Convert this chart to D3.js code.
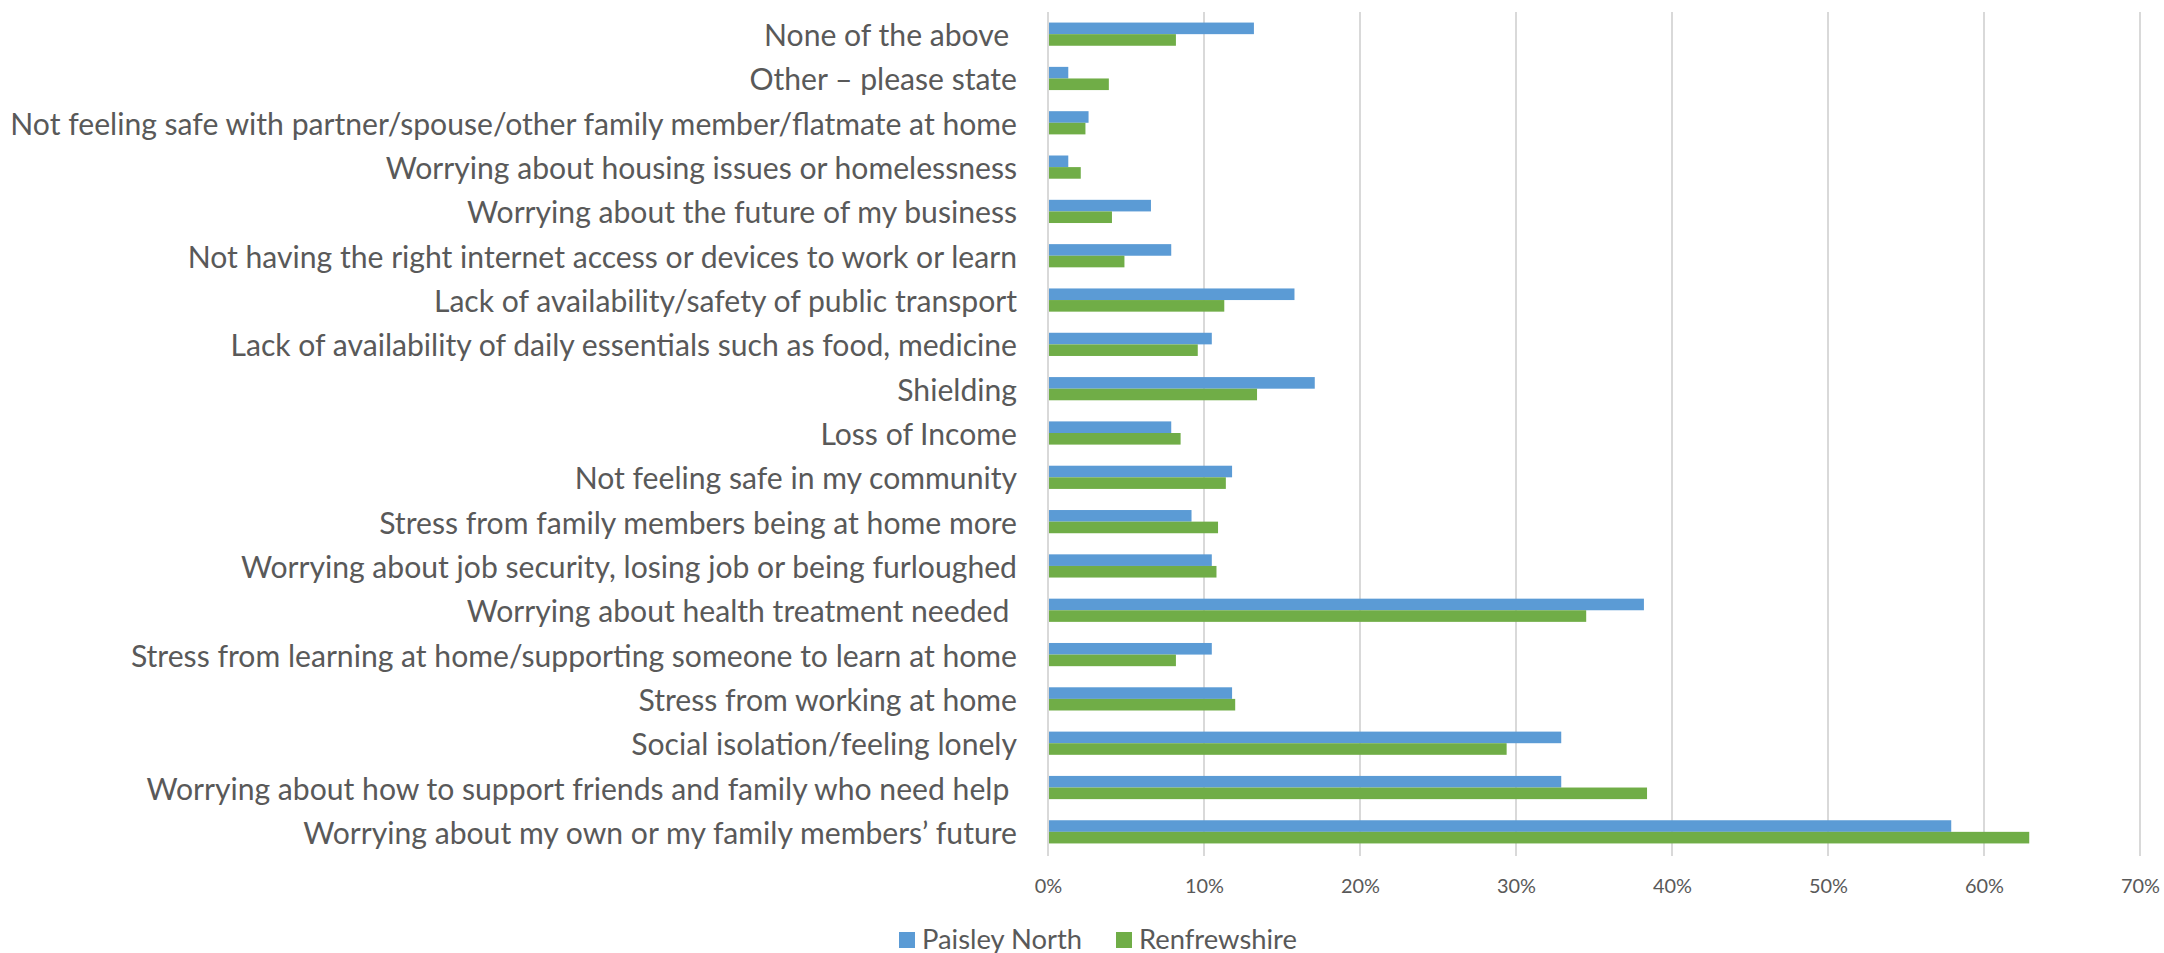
<!DOCTYPE html>
<html>
<head>
<meta charset="utf-8">
<script src="https://cdn.jsdelivr.net/npm/d3@7"></script>
<style>
  html, body { margin: 0; padding: 0; background: #fff; }
  svg { display: block; }
  text { font-family: Lato, "Open Sans", sans-serif; fill: #595959; white-space: pre; }
</style>
</head>
<body>
<svg id="chart" width="2164" height="953"></svg>
<script>
const categories = [
  "None of the above ",
  "Other \u2013 please state",
  "Not feeling safe with partner/spouse/other family member/flatmate at home",
  "Worrying about housing issues or homelessness",
  "Worrying about the future of my business",
  "Not having the right internet access or devices to work or learn",
  "Lack of availability/safety of public transport",
  "Lack of availability of daily essentials such as food, medicine",
  "Shielding",
  "Loss of Income",
  "Not feeling safe in my community",
  "Stress from family members being at home more",
  "Worrying about job security, losing job or being furloughed",
  "Worrying about health treatment needed ",
  "Stress from learning at home/supporting someone to learn at home",
  "Stress from working at home",
  "Social isolation/feeling lonely",
  "Worrying about how to support friends and family who need help ",
  "Worrying about my own or my family members\u2019 future"
];
const seriesNames = ["Paisley North", "Renfrewshire"];
const paisleyNorth = [13.2, 1.3, 2.6, 1.3, 6.6, 7.9, 15.8, 10.5, 17.1, 7.9, 11.8, 9.2, 10.5, 38.2, 10.5, 11.8, 32.9, 32.9, 57.9];
const renfrewshire = [8.2, 3.9, 2.4, 2.1, 4.1, 4.9, 11.3, 9.6, 13.4, 8.5, 11.4, 10.9, 10.8, 34.5, 8.2, 12.0, 29.4, 38.4, 62.9];
const tickValues = [0, 10, 20, 30, 40, 50, 60, 70];
const colors = ["#5b9bd5", "#70ad47"];

const svg = d3.select("#chart");
const x0 = 1048, x1 = 2140, yTop = 12, yBot = 854;

const x = d3.scaleLinear().domain([0, 70]).range([x0, x1]);
const y = d3.scaleBand().domain(categories).range([yTop, yBot]).paddingInner(0).paddingOuter(0);
const groupPad = (y.bandwidth() - 2 * y.bandwidth() / 3.82) / 2;
const ySub = d3.scaleBand().domain(seriesNames)
  .range([groupPad, y.bandwidth() - groupPad]);

// gridlines
const grid = svg.append("g");
grid.selectAll("line").data(tickValues).join("line")
  .attr("x1", d => x(d)).attr("x2", d => x(d))
  .attr("y1", yTop).attr("y2", yBot + 2)
  .attr("stroke", "#d9d9d9").attr("stroke-width", 2);

// bars
const rows = categories.map((c, i) => ({ c, vals: [paisleyNorth[i], renfrewshire[i]] }));
const g = svg.append("g");
rows.forEach(r => {
  g.selectAll(null).data(r.vals.map((v, k) => ({ v, k }))).join("rect")
    .attr("x", x(0) + 1)
    .attr("y", d => y(r.c) + ySub(seriesNames[d.k]))
    .attr("width", d => x(d.v) - x(0) - 1)
    .attr("height", ySub.bandwidth())
    .attr("fill", d => colors[d.k]);
});

// axis tick labels
const xAxis = d3.axisBottom(x).tickValues(tickValues).tickFormat(d => d + "%").tickSize(0).tickPadding(0);
const ax = svg.append("g").attr("transform", `translate(0, ${yBot})`).call(xAxis);
ax.select(".domain").remove();
const tl = ax.selectAll("text").attr("font-size", 20).attr("font-family", "Lato, sans-serif")
  .attr("fill", "#595959").attr("dy", null).attr("y", 31).attr("dominant-baseline", "central");
let w10 = 0;
tl.filter(d => d === 10).each(function() { w10 = this.getComputedTextLength(); });
tl.attr("font-size", 20 * 39 / w10);

// category labels
const yAxis = d3.axisLeft(y).tickSize(0).tickPadding(31);
const ay = svg.append("g").attr("transform", `translate(${x0}, 0)`).call(yAxis);
ay.select(".domain").remove();
const labs = ay.selectAll("text").attr("font-size", 28).attr("font-family", "Lato, sans-serif")
  .attr("fill", "#595959").attr("dy", null).attr("dominant-baseline", "central")
  .style("white-space", "pre");
let maxW = 0;
labs.each(function() { maxW = Math.max(maxW, this.getComputedTextLength()); });
const fs = 28 * 1007 / maxW;
labs.attr("font-size", fs);

// legend
const legend = svg.append("g");
const legX = [899, 1116];
const legTexts = [];
seriesNames.forEach((s, i) => {
  legend.append("rect").attr("x", legX[i]).attr("y", 932).attr("width", 16).attr("height", 16).attr("fill", colors[i]);
  legTexts.push(legend.append("text").attr("x", legX[i] + 23).attr("y", 938).attr("dominant-baseline", "central")
    .attr("font-size", fs).text(s));
});
const wR = legTexts[1].node().getComputedTextLength();
const lfs = fs * 158 / wR;
legTexts.forEach(t => t.attr("font-size", lfs));
</script>
</body>
</html>
